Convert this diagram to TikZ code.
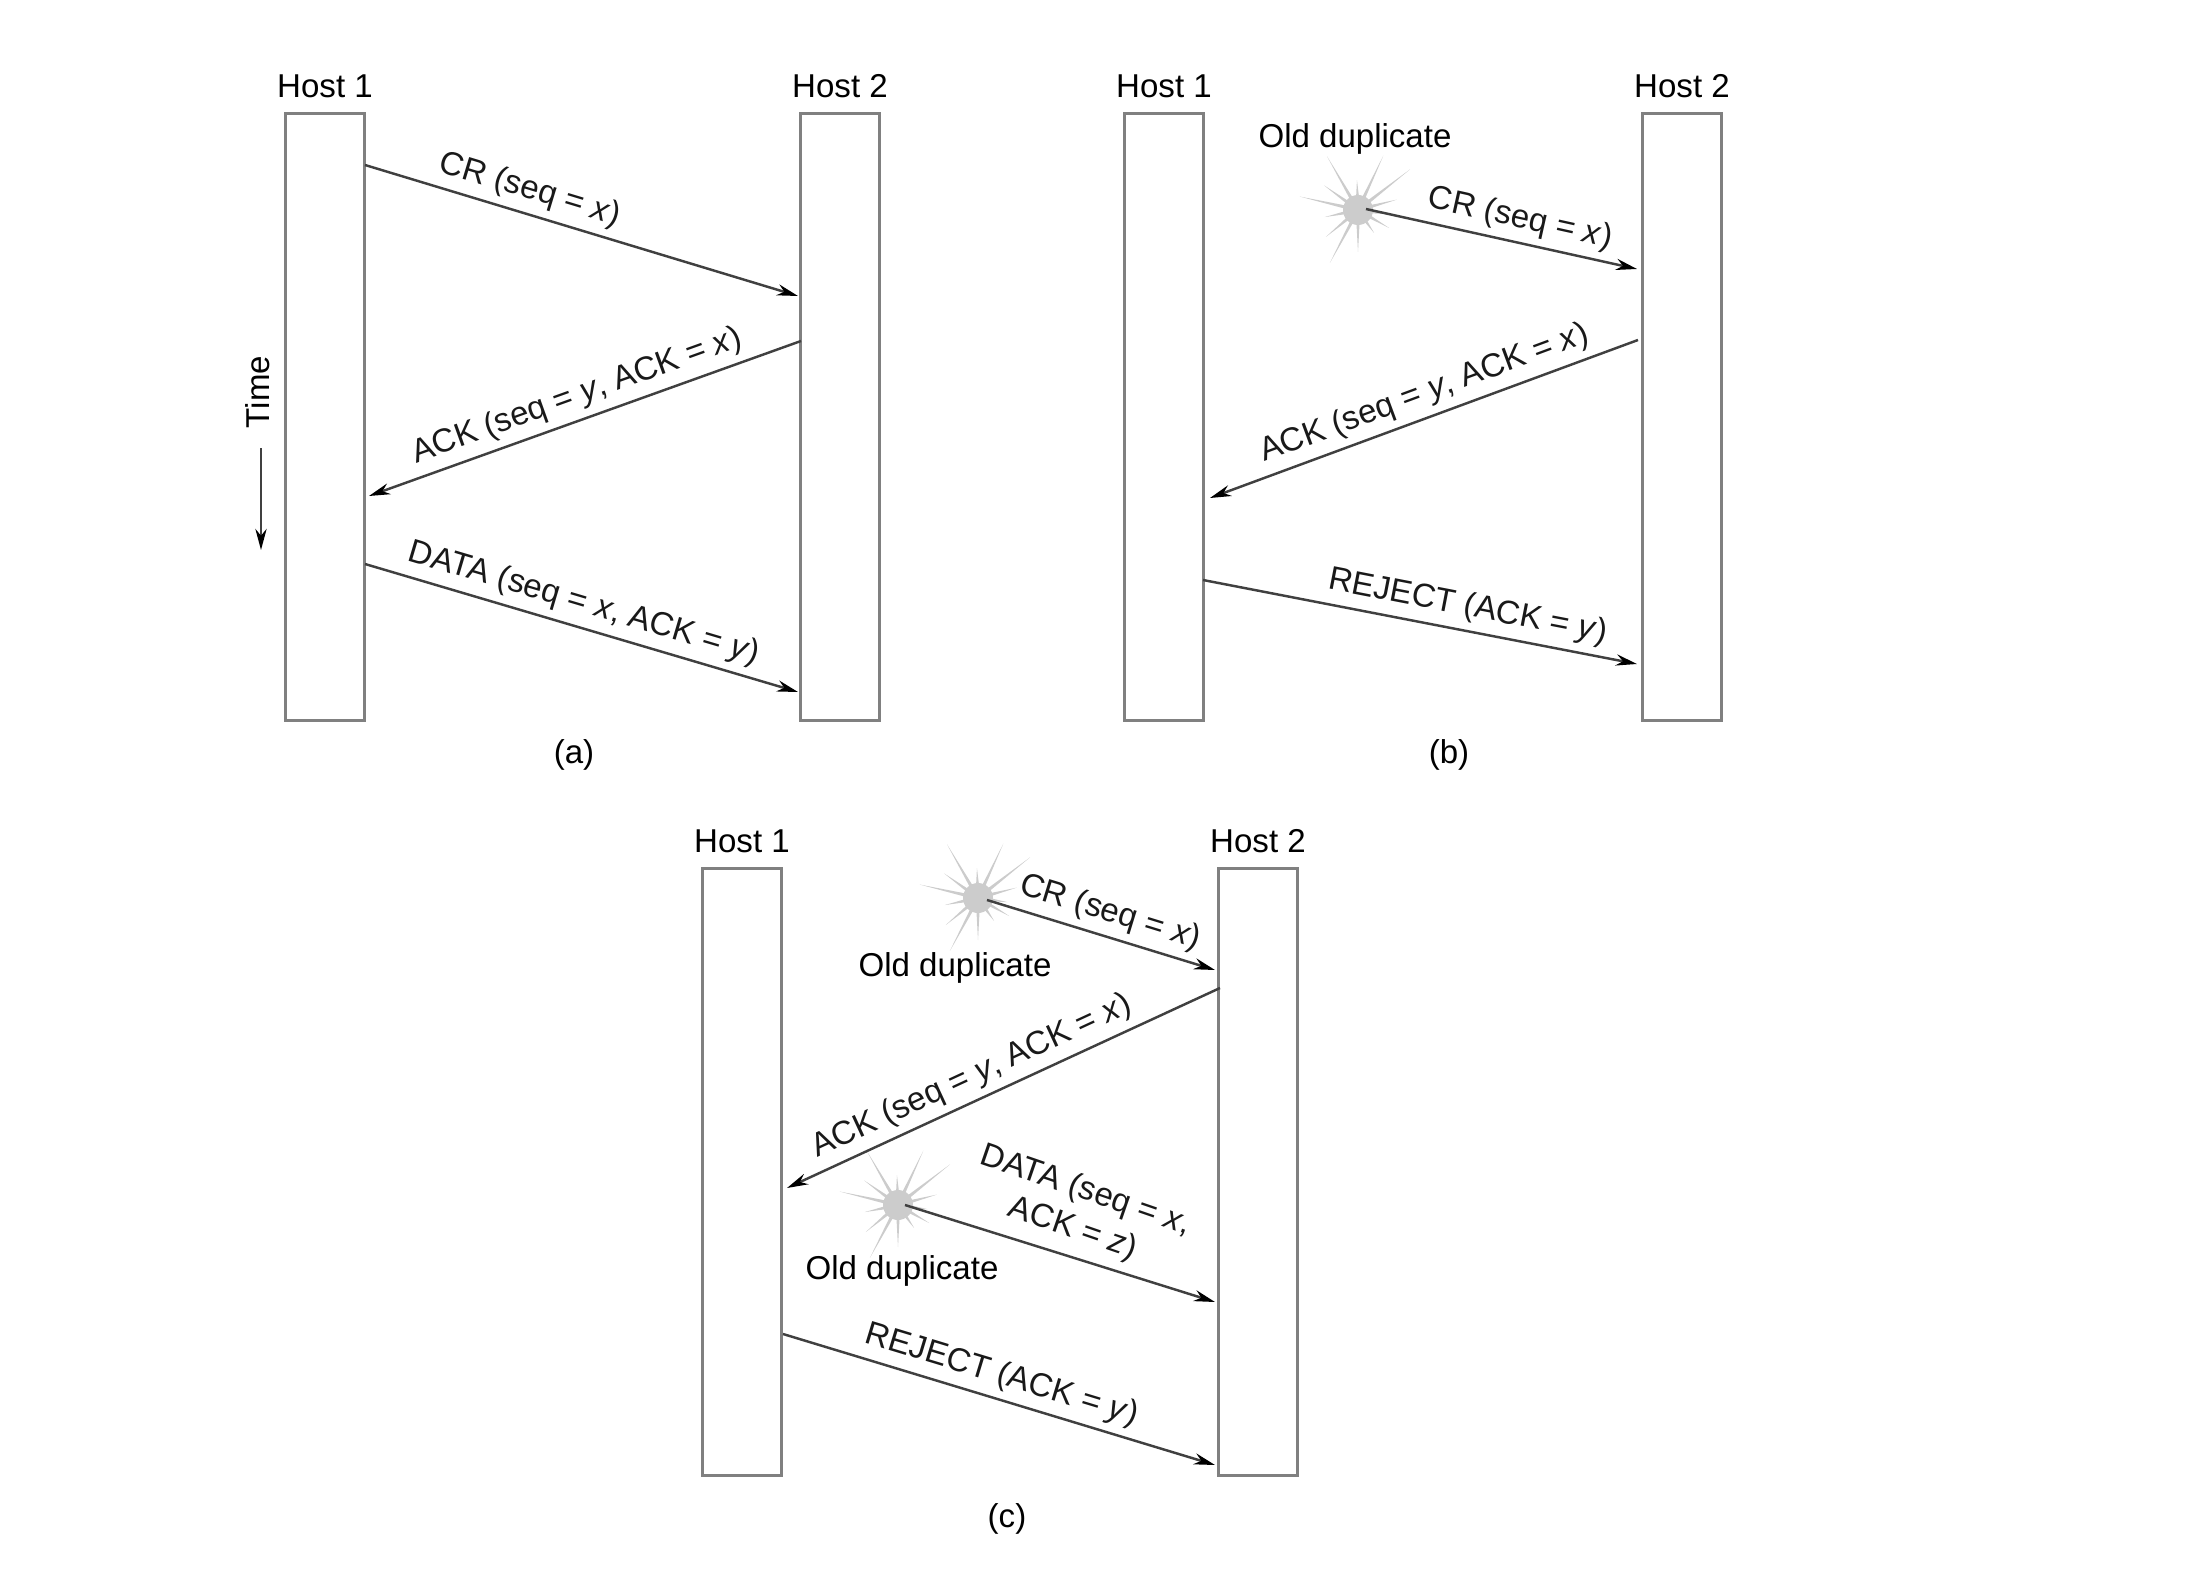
\documentclass[tikz,border=0pt]{standalone}
\usepackage{fontspec}
\setmainfont{Liberation Sans}
\usetikzlibrary{arrows.meta,positioning}

\newcommand{\oldburst}[1]{%
  \begin{scope}[shift={(#1)}]
    \fill[burstgray] (0,0) circle (15);
    \foreach \ang/\len in {8/30, 30/36, 55/28, 90/42, 118/60, 140/42, 168/34, 193/60, 216/42,
                           240/62, 268/30, 295/60, 322/66, 345/40} {
      \fill[burstgray] (\ang-10:10) -- (\ang:\len) -- (\ang+10:10) -- cycle;
    }
  \end{scope}}

\begin{document}
\begin{tikzpicture}[x=0.01cm, y=-0.01cm, line width=0.85pt, font=\fontsize{9.4}{11.4}\selectfont,
    hostbox/.style={draw=black!50, minimum width=0.78cm, minimum height=6.06cm, inner sep=0pt},
    msg/.style={-{Stealth[length=6pt, width=3.2pt, black]}, draw=black!75, line width=0.7pt},
    msgtext/.style={inner sep=2pt, text=black!90},
    burstgray/.style={black!20}]
  \useasboundingbox (0,0) rectangle (2211,1585);

  % panel a
  \node[hostbox] (h1a) at (325,417) {};
  \node[hostbox] (h2a) at (840,417) {};
  \node[above=0.015cm of h1a] (t1a) {Host 1};
  \node[above=0.015cm of h2a] (t2a) {Host 2};
  \node (capa) at (574,755) {(a)};
  \node[rotate=90] (timetext) at (258,392) {Time};
  \coordinate (time1) at (261,448);
  \coordinate (time2) at (261,550);
  \draw[msg] (time1) -- (time2);

  \coordinate (a1) at (365,165);
  \coordinate (a2) at (798,296);
  \coordinate (a3) at (801,341);
  \coordinate (a4) at (369,496);
  \coordinate (a5) at (365,564);
  \coordinate (a6) at (798,692);
  \draw[msg] (a1) -- node[msgtext, pos=.365, above, sloped] (cra) {CR (seq = \textit{x})} (a2);
  \draw[msg] (a3) -- node[msgtext, pos=.50, above, sloped] (acka) {ACK (seq = \textit{y}, ACK = \textit{x})} (a4);
  \draw[msg] (a5) -- node[msgtext, pos=.49, above, sloped] (dataa) {DATA (seq = \textit{x}, ACK = \textit{y})} (a6);

  % panel b
  \node[hostbox] (h1b) at (1164,417) {};
  \node[hostbox] (h2b) at (1682,417) {};
  \node[above=0.015cm of h1b] (t1b) {Host 1};
  \node[above=0.015cm of h2b] (t2b) {Host 2};
  \node (capb) at (1449,755) {(b)};
  \node (oldb) at (1355,139) {Old duplicate};

  \coordinate (sb) at (1358,210);
  \oldburst{sb}
  \coordinate (b1) at (1366,209);
  \coordinate (b2) at (1637,269);
  \coordinate (b3) at (1638,340);
  \coordinate (b4) at (1210,498);
  \coordinate (b5) at (1203,580);
  \coordinate (b6) at (1637,664);
  \draw[msg] (b1) -- node[msgtext, pos=.55, above, sloped] (crb) {CR (seq = \textit{x})} (b2);
  \draw[msg] (b3) -- node[msgtext, pos=.48, above, sloped] (ackb) {ACK (seq = \textit{y}, ACK = \textit{x})} (b4);
  \draw[msg] (b5) -- node[msgtext, pos=.6, above, sloped] (rejb) {REJECT (ACK = \textit{y})} (b6);

  % panel c
  \node[hostbox] (h1c) at (742,1172) {};
  \node[hostbox] (h2c) at (1258,1172) {};
  \node[above=0.015cm of h1c] (t1c) {Host 1};
  \node[above=0.015cm of h2c] (t2c) {Host 2};
  \node (capc) at (1007,1519) {(c)};
  \node (oldc1) at (955,968) {Old duplicate};
  \node (oldc2) at (902,1271) {Old duplicate};

  \coordinate (sc1) at (978,898);
  \coordinate (sc2) at (898,1205);
  \oldburst{sc1}
  \oldburst{sc2}
  \coordinate (c1) at (987,900);
  \coordinate (c2) at (1215,970);
  \coordinate (c3) at (1220,988);
  \coordinate (c4) at (787,1188);
  \coordinate (c5) at (905,1205);
  \coordinate (c6) at (1215,1302);
  \coordinate (c7) at (783,1334);
  \coordinate (c8) at (1215,1465);
  \draw[msg] (c1) -- node[msgtext, pos=.51, above, sloped] (crc) {CR (seq = \textit{x})} (c2);
  \draw[msg] (c3) -- node[msgtext, pos=.55, above, sloped] (ackc) {ACK (seq = \textit{y}, ACK = \textit{x})} (c4);
  \draw[msg] (c5) -- (c6);
  \node[msgtext, rotate=-19, align=center] (datac) at (1079,1210) {DATA (seq = \textit{x},\\ACK = \textit{z})};
  \draw[msg] (c7) -- node[msgtext, pos=.49, above, sloped] (rejc) {REJECT (ACK = \textit{y})} (c8);
\end{tikzpicture}
\end{document}
